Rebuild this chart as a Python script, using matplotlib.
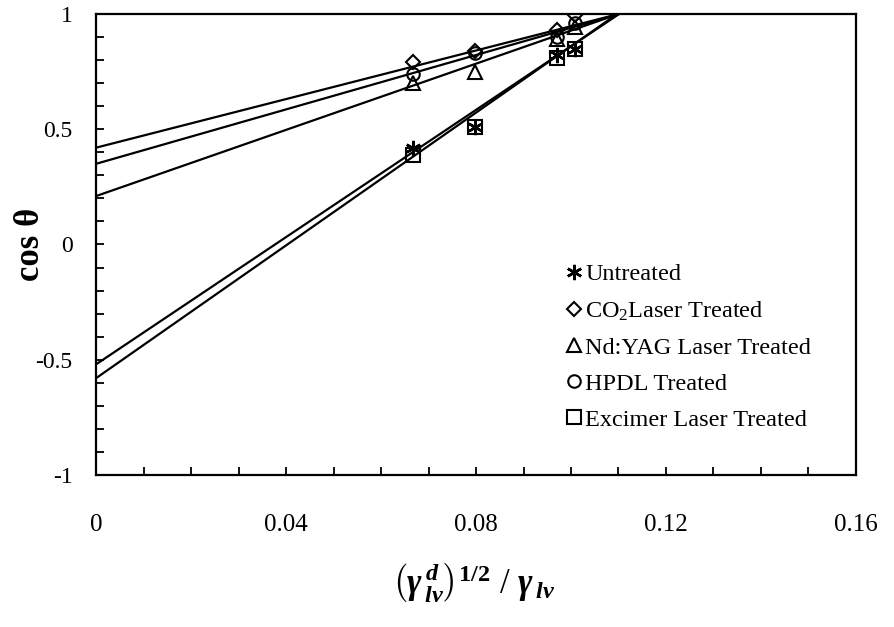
import matplotlib
matplotlib.use("Agg")
import matplotlib.pyplot as plt
import numpy as np
from matplotlib.ticker import MultipleLocator, FixedLocator

# ---- data ----
x_vals = [0.0667, 0.0798, 0.0971, 0.1008]
untreated = [0.42, 0.51, 0.82, 0.85]
co2 = [0.79, 0.84, 0.93, 0.995]
ndyag = [0.70, 0.75, 0.89, 0.945]
hpdl = [0.74, 0.83, 0.90, 0.96]
excimer = [0.39, 0.51, 0.81, 0.85]

# fitted lines (intercept, slope)
fit_untreated = (-0.52, 13.8)
fit_co2 = (0.42, 5.27)
fit_ndyag = (0.21, 7.18)
fit_hpdl = (0.35, 5.9)
fit_excimer = (-0.58, 14.4)

labels = ["Untreated", "CO$_2$Laser Treated", "Nd:YAG Laser Treated",
          "HPDL Treated", "Excimer Laser Treated"]
x_ticks = [0, 0.04, 0.08, 0.12, 0.16]
x_tick_labels = ["0", "0.04", "0.08", "0.12", "0.16"]
y_ticks = [-1, -0.5, 0, 0.5, 1]
y_tick_labels = ["-1", "-0.5", "0", "0.5", "1"]

plt.rcParams['font.family'] = ['Liberation Serif', 'DejaVu Serif']
plt.rcParams['mathtext.fontset'] = 'custom'
plt.rcParams['mathtext.rm'] = 'Liberation Serif'
plt.rcParams['mathtext.it'] = 'Liberation Serif:italic:bold'
plt.rcParams['mathtext.bf'] = 'Liberation Serif:bold'

fig = plt.figure(figsize=(8.95, 6.27), dpi=100)
ax = fig.add_axes([0.1073, 0.2424, 0.8491, 0.7353])

series = [
    (untreated, fit_untreated, dict(marker=(6, 2, 0), markersize=11, mew=1.8)),
    (co2, fit_co2, dict(marker='D', markersize=7, mew=1.5)),
    (ndyag, fit_ndyag, dict(marker='^', markersize=10, mew=1.5)),
    (hpdl, fit_hpdl, dict(marker='o', markersize=9, mew=1.5)),
    (excimer, fit_excimer, dict(marker='s', markersize=10, mew=1.5)),
]

xl = np.array([0.0, 0.16])
handles = []
for (yv, (b, m), mk), lab in zip(series, labels):
    ax.plot(xl, b + m * xl, color='black', lw=1.6, zorder=2)
    h, = ax.plot(x_vals, yv, linestyle='none', markerfacecolor='none',
                 markeredgecolor='black', color='black', label=lab, zorder=3, **mk)
    handles.append(h)

ax.set_xlim(0, 0.16)
ax.set_ylim(-1, 1)
ax.xaxis.set_major_locator(FixedLocator(x_ticks))
ax.set_xticklabels(x_tick_labels)
ax.xaxis.set_minor_locator(MultipleLocator(0.01))
ax.yaxis.set_major_locator(FixedLocator(y_ticks))
ax.set_yticklabels(y_tick_labels)
ax.yaxis.set_minor_locator(MultipleLocator(0.1))

for s in ax.spines.values():
    s.set_linewidth(1.6)
ax.tick_params(which='both', direction='in', width=1.3, top=False, right=False)
ax.tick_params(which='major', length=6)
ax.tick_params(which='minor', length=6)
ax.tick_params(axis='x', which='major', labelsize=18, pad=28)
ax.tick_params(axis='y', which='major', labelsize=17, pad=17)

ax.set_ylabel(r'cos θ', fontsize=25, fontweight='bold', va='center')
ax.yaxis.set_label_coords(-0.0865, 0.5)
ax.set_xlabel(r'$\left(\mathit{\gamma}^{\,d}_{\,lv}\right)^{\mathbf{1/2}}\ \mathit{/}\ \mathit{\gamma}_{\,lv}$',
              fontsize=25)
ax.xaxis.set_label_coords(0.497, -0.235)
ax.xaxis.label.set_va('center')

leg = fig.legend(handles=handles, loc='center left',
                 bbox_to_anchor=(567 / 895, 1 - 347 / 627), bbox_transform=fig.transFigure,
                 frameon=False, fontsize=17.5, handlelength=0.6, handletextpad=0.15,
                 labelspacing=0.58, borderaxespad=0, borderpad=0)

fig.savefig('out.png', dpi=100)
